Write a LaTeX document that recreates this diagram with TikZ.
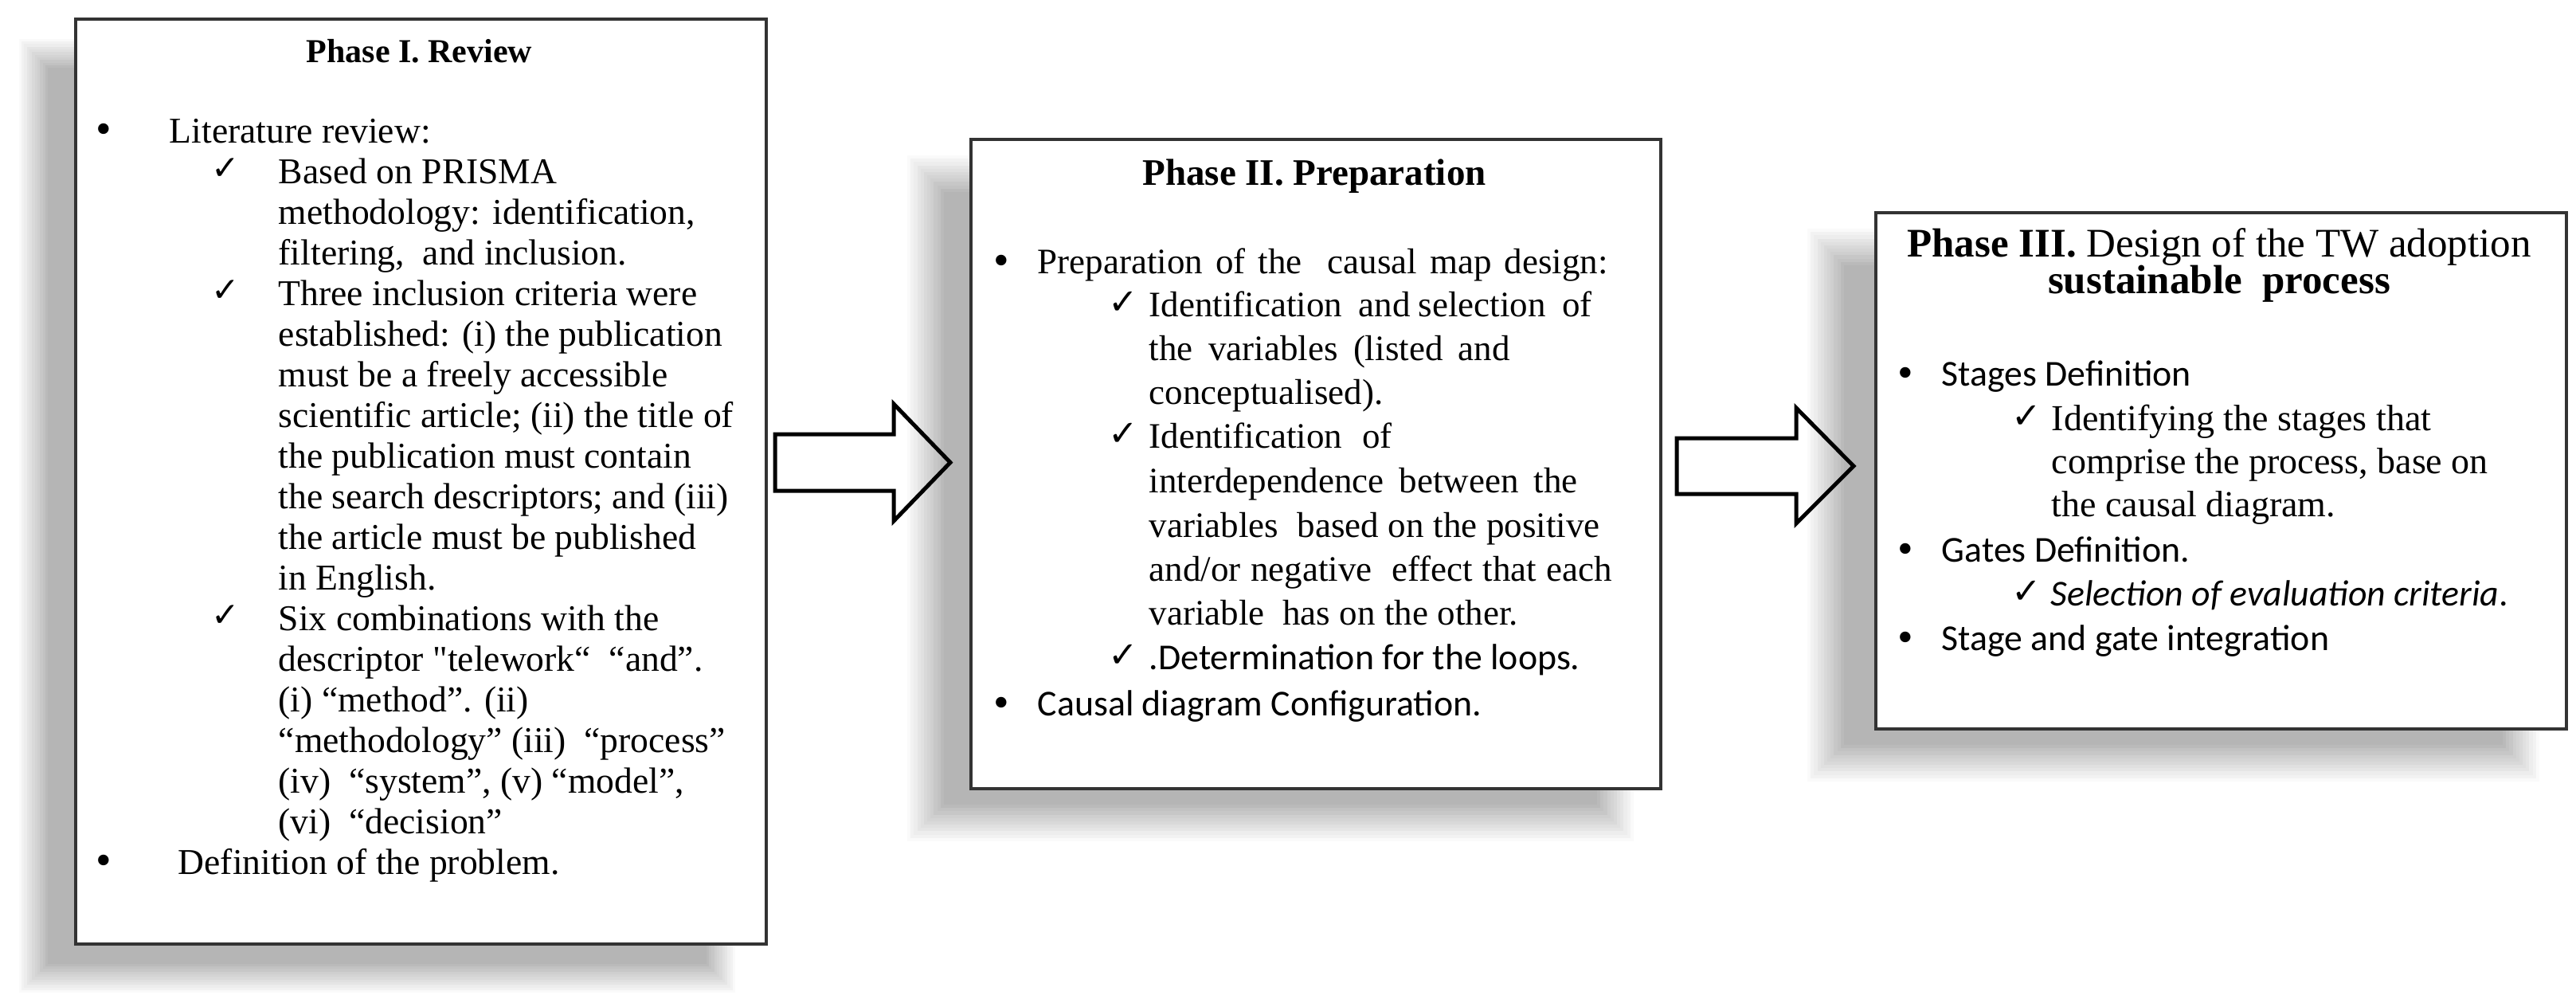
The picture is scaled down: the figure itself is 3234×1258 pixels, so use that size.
\documentclass[tikz,border=0pt]{standalone}
\usepackage{fontspec}
\setmainfont{Liberation Serif}
\newfontfamily\serifnl{Liberation Serif}[Ligatures=TeXOff]
\newfontfamily\calib{Carlito}
\newfontfamily\symf{DejaVu Sans}
\newcommand\fsz[2]{\fontsize{#1}{#2}\selectfont}
\newcommand\softshadow[5]{%
  \foreach \k in {0,...,11}{%
    \pgfmathsetmacro\ins{-#5+2*#5*(\k+0.5)/12}%
    \pgfmathtruncatemacro\shd{round(29*(\k+1)/12)}%
    \fill[black!\shd] ({#1+(\ins)},{#2+(\ins)}) rectangle ({#3-(\ins)},{#4-(\ins)});
  }}
\begin{document}
\begin{tikzpicture}[x=0.25pt,y=-0.25pt,
  phasebox/.style={draw=black!80, line width=0.9pt, fill=white, inner sep=0pt, anchor=north west},
  ln/.style={anchor=base west, inner sep=0pt},
  ttl/.style={anchor=base, inner sep=0pt},
  bul/.style={anchor=base, inner sep=0pt, font=\fsz{14pt}{15pt}},
  ck/.style={anchor=base west, inner sep=0pt, font=\symf\fsz{11.2pt}{12pt}},
  ckA/.style={anchor=base west, inner sep=0pt, font=\symf\fsz{10.6pt}{12pt}},
  blockarrow/.style={draw=black, line width=1.25pt, line join=miter},
  fA/.style={font=\fsz{11.4pt}{13pt}},
  fT1/.style={font=\bfseries\fsz{10.5pt}{12pt}},
  fB/.style={font=\fsz{11.25pt}{13pt}},
  fC/.style={font=\calib\fsz{11.45pt}{13pt}},
  fT2/.style={font=\bfseries\fsz{11.75pt}{13pt}},
  fD/.style={font=\fsz{11.5pt}{13pt}},
  fT3/.style={font=\fsz{12.75pt}{14pt}}
]
\fill[white] (0,0) rectangle (3234,1258);
\useasboundingbox (0,0) rectangle (3234,1258);

% shadows
\softshadow{42}{67}{905}{1228}{20}
\softshadow{1162}{218}{2028}{1033}{25}
\softshadow{2292}{310}{3165}{958}{25}

% boxes
\node[phasebox, minimum width=216.75pt, minimum height=290.25pt] (b1) at (93,22) {};
\node[phasebox, minimum width=216.5pt, minimum height=203.75pt] (b2) at (1217,173) {};
\node[phasebox, minimum width=216.75pt, minimum height=162pt] (b3) at (2353,265) {};

% block arrows
\draw[blockarrow] (973,545) -- (1122,545) -- (1122,507) -- (1193,580.5) -- (1122,654) -- (1122,616) -- (973,616) -- cycle;
\draw[blockarrow] (2105,550) -- (2255,550) -- (2255,512) -- (2327,585) -- (2255,657) -- (2255,620) -- (2105,620) -- cycle;

% ---------- Phase I ----------
\node[ttl,fT1] (t1) at (526.5,78) {Phase I. Review};
\node[bul] (b1m1) at (130,180) {•};
\node[ln,fA] (b1l1) at (212,179) {Literature review:};
\node[ckA] (b1k1) at (265,225) {✓};
\node[ln,fA] (b1l2) at (349,230) {Based on PRISMA};
\node[ln,fA] (b1l3) at (349,281) {methodology: identification,};
\node[ln,fA] (b1l4) at (349,332) {filtering,~ and inclusion.};
\node[ckA] (b1k2) at (265,378) {✓};
\node[ln,fA] (b1l5) at (349,383) {Three inclusion criteria were};
\node[ln,fA] (b1l6) at (349,434) {established: (i) the publication};
\node[ln,fA] (b1l7) at (349,485) {must be a freely accessible};
\node[ln,fA] (b1l8) at (349,536) {scientific article; (ii) the title of};
\node[ln,fA] (b1l9) at (349,587) {the publication must contain};
\node[ln,fA] (b1l10) at (349,638) {the search descriptors; and (iii)};
\node[ln,fA] (b1l11) at (349,689) {the article must be published};
\node[ln,fA] (b1l12) at (349,740) {in English.};
\node[ckA] (b1k3) at (265,786) {✓};
\node[ln,fA] (b1l13) at (349,791) {Six combinations with the};
\node[ln,fA] (b1l14) at (349,842) {descriptor {\serifnl"}telework“~ “and”.};
\node[ln,fA] (b1l15) at (349,893) {(i) “method”. (ii)};
\node[ln,fA] (b1l16) at (349,944) {“methodology” (iii)~ “process”};
\node[ln,fA] (b1l17) at (349,995) {(iv)~ “system”, (v) “model”,};
\node[ln,fA] (b1l18) at (349,1046) {(vi)~ “decision”};
\node[bul] (b1m2) at (130,1098) {•};
\node[ln,fA] (b1l19) at (223,1097) {Definition of the problem.};

% ---------- Phase II ----------
\node[ttl,fT2] (t2) at (1650,232) {Phase II. Preparation};
\node[bul] (b2m1) at (1257,345) {•};
\node[ln,fB] (b2l1) at (1302,343) {\makebox[179pt][s]{Preparation of\ the\ \ causal map design:}};
\node[ck] (b2k1) at (1391,394) {✓};
\node[ln,fB] (b2l2) at (1442,397) {\makebox[139pt][s]{Identification\ \ and selection\ \ of}};
\node[ln,fB] (b2l3) at (1442,452) {\makebox[113.25pt][s]{the\ \ variables\ \ (listed\ \ and}};
\node[ln,fB] (b2l4) at (1442,507) {conceptualised).};
\node[ck] (b2k2) at (1391,559) {✓};
\node[ln,fB] (b2l5) at (1442,562) {\makebox[76.25pt][s]{Identification\ \ of}};
\node[ln,fB] (b2l6) at (1442,618) {\makebox[134.5pt][s]{interdependence between the}};
\node[ln,fB] (b2l7) at (1442,674) {\makebox[141.5pt][s]{variables\ \ based on the positive}};
\node[ln,fB] (b2l8) at (1442,729) {\makebox[145.25pt][s]{and/or negative\ \ effect that each}};
\node[ln,fB] (b2l9) at (1442,784) {\makebox[115.75pt][s]{variable\ \ has on the other.}};
\node[ck] (b2k3) at (1391,837) {✓};
\node[ln,fC] (b2l10) at (1442,840) {.Determination for the loops.};
\node[bul] (b2m2) at (1257,900) {•};
\node[ln,fC] (b2l11) at (1302,898) {Causal diagram Configuration.};

% ---------- Phase III ----------
\node[ttl,fT3] (t3a) at (2786,322) {\textbf{Phase III.} Design of the TW adoption};
\node[ttl,fT3] (t3b) at (2786,368) {\textbf{sustainable\ \ process}};
\node[bul] (b3m1) at (2392,486) {•};
\node[ln,fC] (b3l1) at (2437,484) {Stages Definition};
\node[ck] (b3k1) at (2525,537) {✓};
\node[ln,fD] (b3l2) at (2575,540) {Identifying the stages that};
\node[ln,fD] (b3l3) at (2575,594) {comprise the process, base on};
\node[ln,fD] (b3l4) at (2575,648) {the causal diagram.};
\node[bul] (b3m2) at (2392,707) {•};
\node[ln,fC] (b3l5) at (2437,705) {Gates Definition.};
\node[ck] (b3k2) at (2525,757) {✓};
\node[ln,fC] (b3l6) at (2574,760) {\textit{Selection of evaluation criteria}.};
\node[bul] (b3m3) at (2392,818) {•};
\node[ln,fC] (b3l7) at (2437,816) {Stage and gate integration};
\end{tikzpicture}
\end{document}
